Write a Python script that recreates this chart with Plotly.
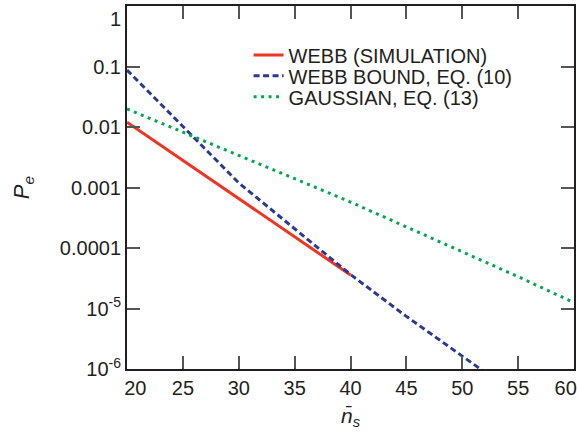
import plotly.graph_objects as go

# Data
webb_sim_x = [20, 25, 30, 35, 40]
webb_sim_y = [0.012, 0.00281, 0.000656, 0.000153, 0.0000358]
webb_bound_x = [20, 25, 30, 35, 40, 45, 50, 55]
webb_bound_y = [0.0875, 0.0102, 0.00119, 0.000208, 0.0000365, 0.0000074, 0.00000164, 0.00000036]
gauss_x = [20, 25, 30, 35, 40, 45, 50, 55, 60]
gauss_y = [0.0199, 0.0083, 0.00338, 0.00140, 0.000575, 0.000222, 0.0000875, 0.0000336, 0.0000125]

y_tickvals = [1, 0.1, 0.01, 0.001, 0.0001, 1e-5, 1e-6]
y_ticktext = ["\u00a0<br>1", "0.1", "0.01", "0.001", "0.0001", "10<sup>-5</sup>", "10<sup>-6</sup>"]
x_tickvals = [20, 25, 30, 35, 40, 45, 50, 55, 60]
x_ticktext = ["\u00a0\u00a0\u00a020", "25", "30", "35", "40", "45", "50", "55", "60\u00a0\u00a0\u00a0"]

names = ["WEBB (SIMULATION)", "WEBB BOUND, EQ. (10)", "GAUSSIAN, EQ. (13)"]

TXT = "#231f20"
FONT = "Liberation Sans, Arial, sans-serif"

fig = go.Figure()
fig.add_trace(go.Scatter(x=webb_sim_x, y=webb_sim_y, mode="lines", name=names[0],
                         line=dict(color="#ee3424", width=3), legend="legend", showlegend=True))
fig.add_trace(go.Scatter(x=webb_bound_x, y=webb_bound_y, mode="lines", name=names[1],
                         line=dict(color="#2b3990", width=3, dash="6px,3.5px"), legend="legend2"))
fig.add_trace(go.Scatter(x=gauss_x, y=gauss_y, mode="lines", name=names[2],
                         line=dict(color="#00a651", width=3, dash="3px,4.5px"), legend="legend3"))

leg_common = dict(x=0.272, xanchor="left", yanchor="middle", bgcolor="rgba(0,0,0,0)",
                  font=dict(family=FONT, size=20, color=TXT), borderwidth=0, visible=True)

fig.update_layout(
    width=577, height=441,
    margin=dict(l=127, r=3, t=6, b=72, autoexpand=False),
    paper_bgcolor="white", plot_bgcolor="white",
    showlegend=True,
    font=dict(family=FONT, size=20, color=TXT),
    legend=dict(y=0.865, **leg_common),
    legend2=dict(y=0.808, **leg_common),
    legend3=dict(y=0.750, **leg_common),
    xaxis=dict(range=[20, 60], tickvals=x_tickvals, ticktext=x_ticktext, ticks="inside", ticklen=13,
               tickwidth=1.5, tickcolor="#555555", showline=True, linewidth=2,
               linecolor=TXT, mirror="ticks", showgrid=False, zeroline=False,
               ticklabeloverflow="allow", automargin=False,
               tickfont=dict(size=20, color=TXT),
               title=dict(text="<i>n\u0304<sub>s</sub></i>", font=dict(size=21, color=TXT), standoff=10)),
    yaxis=dict(type="log", range=[-6, 0], tickvals=y_tickvals, ticktext=y_ticktext,
               ticks="inside", ticklen=13, tickwidth=1.5, tickcolor="#555555",
               showline=True, linewidth=2, linecolor=TXT, mirror="ticks",
               ticklabeloverflow="allow", automargin=False,
               showgrid=False, zeroline=False, tickfont=dict(size=20, color=TXT),
               title=dict(text="<i>P<sub>e</sub></i>", font=dict(size=22, color=TXT), standoff=24)),
)

fig.write_html("out.html")
